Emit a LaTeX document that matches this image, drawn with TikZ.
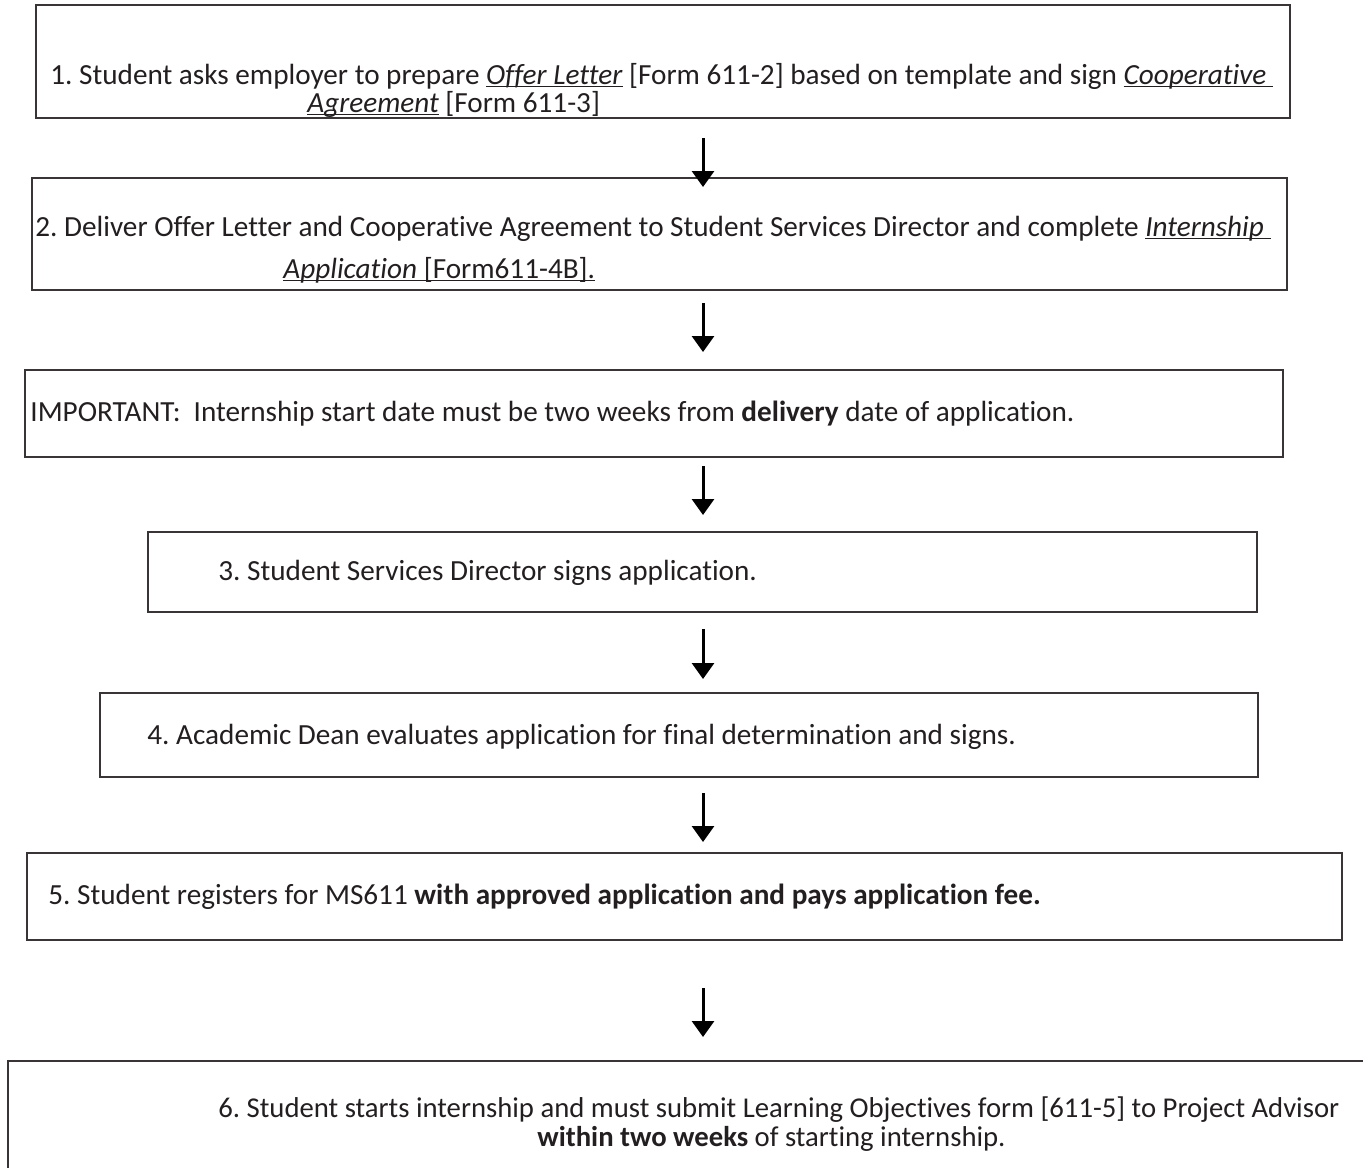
\documentclass[tikz,border=0pt]{standalone}
\usepackage{fontspec}
\setmainfont{Carlito}[Ligatures=NoCommon]
\usetikzlibrary{arrows.meta}
\definecolor{ink}{HTML}{231F20}
\frenchspacing
\newcommand\myul[1]{\underline{\smash{#1}}}
\begin{document}
\begin{tikzpicture}[x=0.5pt,y=-0.5pt,
  box/.style={draw=ink!90, line width=1.4pt, rectangle, inner sep=0pt},
  txt/.style={anchor=base west, inner sep=0pt, text=ink, font=\fontsize{14.6pt}{17pt}\selectfont},
  arr/.style={draw=black, line width=1.5pt, -{Triangle[width=11pt,length=8pt]}}]
\clip (0,0) rectangle (1363,1167);
\fill[white] (0,0) rectangle (1363,1167);
% boxes
\node[box, minimum width=627pt, minimum height=56.5pt] (b1) at (663,61.5) {};
\node[box, minimum width=627.5pt, minimum height=56pt] (b2) at (659.5,234) {};
\node[box, minimum width=629pt, minimum height=43.5pt] (b3) at (654,413.5) {};
\node[box, minimum width=554.5pt, minimum height=40pt] (b4) at (702.5,572) {};
\node[box, minimum width=579pt, minimum height=42pt] (b5) at (679,735) {};
\node[box, minimum width=657.5pt, minimum height=43.5pt] (b6) at (684.5,896.5) {};
\node[box, minimum width=690pt, minimum height=70pt] (b7) at (698,1131) {};
% texts
\node[txt] (t1a) at (50,84) {1. Student asks employer to prepare \myul{\textit{Offer Letter}} [Form 611-2] based on template and sign \myul{\textit{Cooperative}\ }};
\node[txt] (t1b) at (307,112) {\myul{\textit{Agreement}} [Form 611-3]};
\node[txt] (t2a) at (35,236) {2. Deliver Offer Letter and Cooperative Agreement to Student Services Director and complete \myul{\textit{Internship}\ }};
\node[txt] (t2b) at (283,278) {\myul{\textit{Application} [Form611-4B].}};
\node[txt] (t3) at (30,421) {IMPORTANT:\ \ Internship start date must be two weeks from \textbf{delivery} date of application.};
\node[txt] (t4) at (218,580) {3. Student Services Director signs application.};
\node[txt] (t5) at (147,744) {4. Academic Dean evaluates application for final determination and signs.};
\node[txt] (t6) at (48,904) {5. Student registers for MS611 \textbf{with approved application and pays application fee.}};
\node[txt, font=\fontsize{14.35pt}{17pt}\selectfont] (t7a) at (218,1117) {6. Student starts internship and must submit Learning Objectives form [611-5] to Project Advisor};
\node[txt, font=\fontsize{14.35pt}{17pt}\selectfont] (t7b) at (537,1146) {\textbf{within two weeks} of starting internship.};
% arrows
\coordinate (a1s) at (703,138); \coordinate (a1e) at (703,187);
\coordinate (a2s) at (703,303); \coordinate (a2e) at (703,352);
\coordinate (a3s) at (703,466); \coordinate (a3e) at (703,515);
\coordinate (a4s) at (703,629); \coordinate (a4e) at (703,679);
\coordinate (a5s) at (703,793); \coordinate (a5e) at (703,842);
\coordinate (a6s) at (703,988); \coordinate (a6e) at (703,1037);
\draw[arr] (a1s) -- (a1e);
\draw[arr] (a2s) -- (a2e);
\draw[arr] (a3s) -- (a3e);
\draw[arr] (a4s) -- (a4e);
\draw[arr] (a5s) -- (a5e);
\draw[arr] (a6s) -- (a6e);
\end{tikzpicture}
\end{document}
